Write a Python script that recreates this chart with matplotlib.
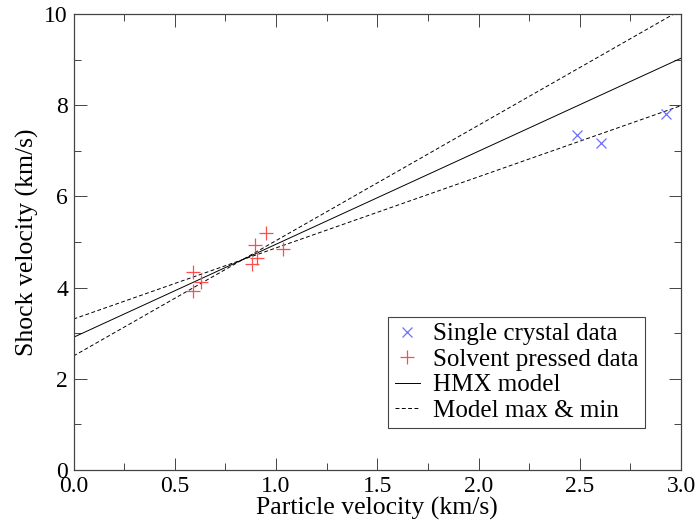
import matplotlib
matplotlib.use("Agg")
import matplotlib.pyplot as plt
import numpy as np
from matplotlib.ticker import MultipleLocator

plt.rcParams["font.family"] = ["Liberation Serif", "DejaVu Serif"]

# data
crystal_up = [2.486, 2.605, 2.926]
crystal_us = [7.35, 7.17, 7.81]

pressed_up = [0.592, 0.628, 0.592, 0.951, 0.896, 1.036, 0.908, 0.880]
pressed_us = [4.35, 4.13, 3.93, 5.19, 4.93, 4.85, 4.64, 4.52]

# Us = c0 + s*Up
model_c0, model_s = 2.91, 2.04
max_c0, max_s = 2.50, 2.53
min_c0, min_s = 3.31, 1.56

fig = plt.figure(figsize=(6.98, 5.25), dpi=100)
ax = fig.add_axes([73.5 / 698, 55 / 525, 607.5 / 698, 456 / 525])

up = np.linspace(0, 3, 50)
ax.plot(crystal_up, crystal_us, "x", color="#6f6fff", ms=7.5, mew=0.9,
        label="Single crystal data", zorder=3)
ax.plot(pressed_up, pressed_us, "+", color="#ff4c4c", ms=9.5, mew=0.9,
        label="Solvent pressed data", zorder=3)
ax.plot(up, model_c0 + model_s * up, "-", color="black", lw=0.7,
        label="HMX model")
ax.plot(up, max_c0 + max_s * up, "--", color="black", lw=0.7,
        dashes=(4, 2.5), label="Model max & min")
ax.plot(up, min_c0 + min_s * up, "--", color="black", lw=0.7,
        dashes=(4, 2.5))

ax.set_xlim(0, 3)
ax.set_ylim(0, 10)
ax.xaxis.set_major_locator(MultipleLocator(0.5))
ax.xaxis.set_minor_locator(MultipleLocator(0.25))
ax.yaxis.set_major_locator(MultipleLocator(2))
ax.yaxis.set_minor_locator(MultipleLocator(1))
ax.xaxis.set_major_formatter(matplotlib.ticker.FormatStrFormatter("%.1f"))
ax.tick_params(which="both", direction="in", top=True, right=True,
               labelsize=17, width=0.7, color="#444444")
ax.tick_params(which="major", length=9, pad=4)
ax.tick_params(which="minor", length=4.8)
for sp in ax.spines.values():
    sp.set_linewidth(0.9)
    sp.set_color("#444444")

ax.set_xlabel("Particle velocity (km/s)", fontsize=18.5, labelpad=0)
ax.set_ylabel("Shock velocity (km/s)", fontsize=18.5, labelpad=4)

leg = ax.legend(loc="lower right", bbox_to_anchor=(0.941, 0.092),
                fontsize=18, fancybox=False, framealpha=1,
                edgecolor="#444444", handlelength=1.0, handletextpad=0.55,
                borderpad=0.25, borderaxespad=0, labelspacing=0.12,
                markerscale=1)
leg.get_frame().set_linewidth(0.8)

fig.savefig("out.png", dpi=100)
